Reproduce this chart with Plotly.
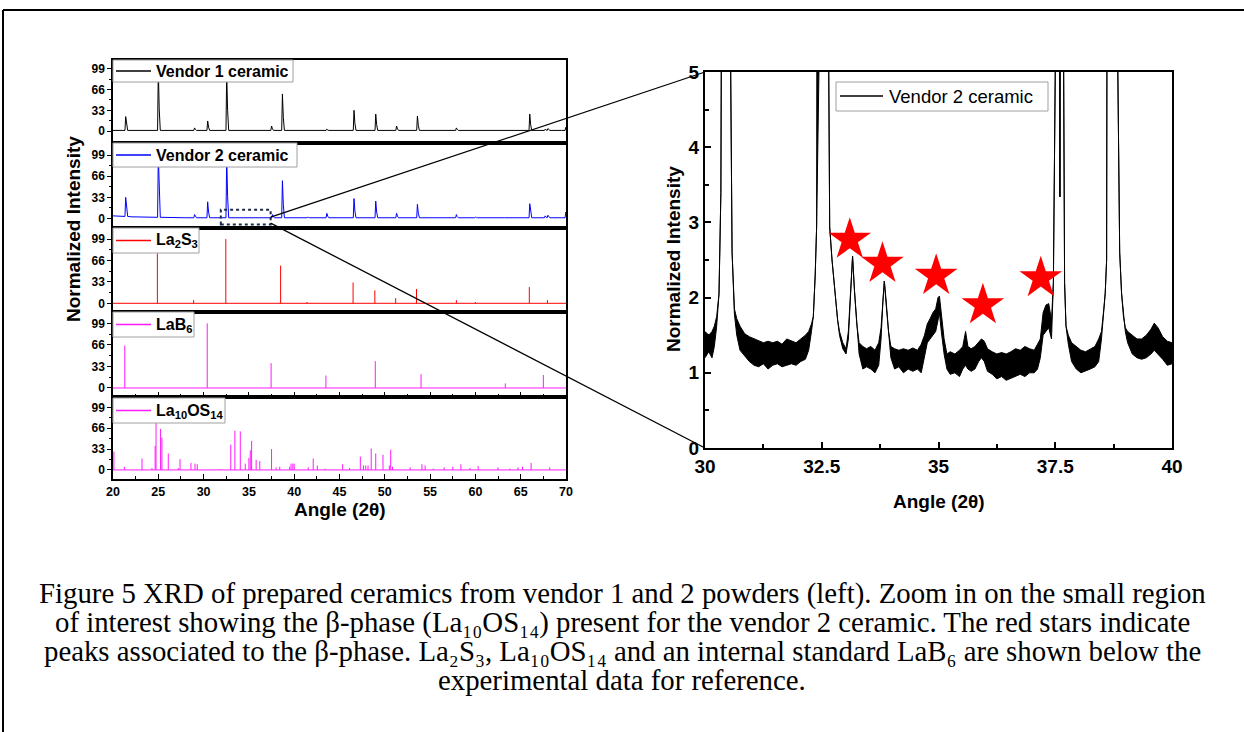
import numpy as np
import plotly.graph_objects as go

W, H = 1244, 732

# ---------------- data ----------------
angle_ticks = [20, 25, 30, 35, 40, 45, 50, 55, 60, 65, 70]
intensity_ticks = [0, 33, 66, 99]

# Vendor 1 ceramic (peak position 2θ, normalized height)
v1_pos = [21.4, 25.0, 29.0, 30.45, 32.55, 37.5, 38.7, 43.6, 46.6, 49.0, 51.3, 53.6, 57.9, 66.0, 67.7, 68.0, 69.98]
v1_int = [23, 99, 5, 16, 92, 8, 59, 3, 33, 27, 8, 24, 5, 27, 3, 4, 6]
v1_base_x = [20.0, 69.5]
v1_base_y = [1.0, 1.0]

# Vendor 2 ceramic
v2_pos = [21.4, 25.0, 29.0, 30.45, 32.55, 37.6, 38.7, 41.5, 43.6, 46.6, 49.0, 51.3, 53.6, 57.9, 60.0, 63.3, 66.0, 67.7, 68.0, 69.98]
v2_int = [33, 99, 6, 26, 95, 6, 59, 2, 8, 31, 27, 8, 22, 6, 2, 1, 23, 4, 5, 10]
v2_base_x = [20.0, 21.0, 22.0, 24.0, 28.0, 69.5]
v2_base_y = [4.0, 3.5, 2.5, 2.0, 1.0, 1.0]

# Reference stick patterns
la2s3_pos = [24.9, 28.9, 32.45, 38.5, 41.4, 46.5, 48.9, 51.2, 53.5, 57.9, 60.0, 65.95, 67.95]
la2s3_int = [77, 5, 99, 58, 2, 32, 20, 8, 22, 5, 2, 25, 5]

lab6_pos = [21.3, 30.4, 37.45, 43.5, 48.95, 54.0, 63.3, 67.5]
lab6_int = [65, 99, 38, 19, 41, 21, 7, 20]

la10_pos = [20.1, 21.25, 23.2, 24.3, 24.65, 24.75, 25.25, 25.4, 26.1, 27.2, 27.4, 28.6, 29.05, 29.3,
            31.8, 33.0, 33.45, 34.05, 34.6, 35.0, 35.15, 35.3, 35.8, 36.2, 37.5, 38.0, 38.4, 39.5,
            39.65, 39.85, 40.0, 41.55, 42.1, 42.55, 43.4, 45.35, 46.1, 47.3, 47.65, 47.9, 48.15, 48.5,
            49.0, 49.8, 50.5, 50.65, 50.85, 52.8, 54.1, 54.45, 55.35, 56.55, 57.5, 58.4, 59.4, 60.3,
            62.5, 63.8, 64.7, 65.2, 66.15, 68.2]
la10_int = [29, 5, 18, 3, 38, 99, 65, 51, 26, 3, 17, 11, 10, 9,
            1, 40, 62, 61, 10, 19, 31, 46, 16, 14, 33, 4, 5, 5,
            10, 10, 10, 4, 18, 7, 2, 9, 3, 21, 7, 7, 7, 34,
            26, 24, 7, 32, 5, 4, 9, 7, 2, 4, 5, 9, 3, 6,
            4, 2, 4, 5, 11, 4]

# Zoomed vendor 2 region: 2θ, lower and upper edge of the noisy trace
zoom_x = [30.00, 30.08, 30.15, 30.20, 30.25, 30.30, 30.34, 30.37, 30.46, 30.55, 30.58, 30.63, 30.68,
          30.75, 30.85, 30.95, 31.05, 31.15, 31.25, 31.35, 31.45, 31.55, 31.65, 31.75, 31.85, 31.95,
          32.05, 32.15, 32.22, 32.28, 32.32, 32.36, 32.39, 32.44, 32.55, 32.65, 32.67, 32.72, 32.78,
          32.84, 32.88, 32.95, 33.02, 33.07, 33.11, 33.16, 33.20, 33.25, 33.30, 33.38, 33.46, 33.55,
          33.64, 33.72, 33.77, 33.81, 33.84, 33.88, 33.93, 33.98, 34.06, 34.15, 34.25, 34.35, 34.45,
          34.55, 34.63, 34.70, 34.76, 34.82, 34.88, 34.94, 34.99, 35.02, 35.06, 35.12, 35.18, 35.25,
          35.35, 35.45, 35.52, 35.58, 35.63, 35.70, 35.78, 35.86, 35.92, 35.98, 36.05, 36.15, 36.25,
          36.35, 36.45, 36.55, 36.65, 36.75, 36.85, 36.95, 37.05, 37.12, 37.18, 37.24, 37.30, 37.36,
          37.42, 37.46, 37.50, 37.56, 37.60, 37.64, 37.68, 37.70, 37.73, 37.78, 37.85, 37.95, 38.05,
          38.15, 38.25, 38.35, 38.43, 38.49, 38.54, 38.57, 38.60, 38.64, 38.74, 38.84, 38.88, 38.92,
          38.96, 39.00, 39.05, 39.15, 39.25, 39.35, 39.45, 39.55, 39.62, 39.70, 39.80, 39.90, 40.00]
zoom_lo = [1.20, 1.28, 1.20, 1.35, 1.62, 2.05, 3.40, 5.0, 26.0, 5.0, 2.60, 1.78, 1.50,
           1.30, 1.22, 1.15, 1.10, 1.08, 1.12, 1.05, 1.10, 1.12, 1.08, 1.10, 1.12, 1.10,
           1.15, 1.18, 1.30, 1.55, 1.75, 2.30, 2.94, 5.0, 79.0, 5.0, 2.94, 2.50, 2.06,
           1.70, 1.50, 1.32, 1.25, 1.45, 1.95, 2.55, 2.10, 1.60, 1.25, 1.05, 1.08, 1.05,
           1.00, 1.10, 1.45, 1.95, 2.22, 1.90, 1.50, 1.20, 1.05, 1.08, 1.00, 1.05, 1.02,
           1.05, 1.00, 1.20, 1.40, 1.45, 1.50, 1.55, 1.70, 1.80, 1.55, 1.25, 1.05, 0.98,
           1.00, 0.95, 1.05, 1.10, 1.05, 1.02, 1.05, 1.15, 1.20, 1.15, 1.02, 0.98, 0.92,
           0.95, 0.90, 0.93, 0.95, 0.98, 0.95, 1.00, 1.00, 1.05, 1.20, 1.50, 1.55, 1.60,
           1.45, 2.20, 5.0, 20.0, 3.34, 20.0, 5.0, 2.20, 1.62, 1.38, 1.15, 1.05, 1.00,
           1.02, 1.05, 1.08, 1.15, 1.45, 1.80, 2.06, 2.50, 5.0, 59.0, 5.0, 2.60, 2.06,
           1.75, 1.55, 1.40, 1.25, 1.20, 1.18, 1.20, 1.25, 1.30, 1.25, 1.18, 1.10, 1.12]
zoom_hi = [1.55, 1.50, 1.55, 1.62, 1.75, 2.05, 3.40, 5.0, 26.0, 5.0, 2.60, 1.85, 1.72,
           1.62, 1.52, 1.48, 1.45, 1.43, 1.40, 1.42, 1.40, 1.42, 1.38, 1.45, 1.42, 1.40,
           1.45, 1.50, 1.55, 1.65, 1.75, 2.30, 2.94, 5.0, 79.0, 5.0, 2.94, 2.50, 2.06,
           1.70, 1.55, 1.40, 1.32, 1.55, 2.00, 2.55, 2.10, 1.65, 1.40, 1.35, 1.32, 1.35,
           1.30, 1.40, 1.60, 2.05, 2.22, 1.95, 1.55, 1.35, 1.32, 1.30, 1.32, 1.30, 1.33,
           1.30, 1.38, 1.50, 1.65, 1.72, 1.80, 1.85, 2.00, 2.02, 1.75, 1.45, 1.25, 1.28,
           1.25, 1.30, 1.35, 1.55, 1.35, 1.32, 1.35, 1.40, 1.45, 1.42, 1.32, 1.28, 1.25,
           1.27, 1.25, 1.28, 1.32, 1.30, 1.35, 1.32, 1.30, 1.38, 1.45, 1.80, 1.90, 1.92,
           1.70, 2.20, 5.0, 20.0, 3.34, 20.0, 5.0, 2.20, 1.62, 1.50, 1.40, 1.35, 1.30,
           1.28, 1.32, 1.35, 1.45, 1.55, 1.85, 2.06, 2.50, 5.0, 59.0, 5.0, 2.60, 2.06,
           1.75, 1.60, 1.55, 1.50, 1.45, 1.45, 1.50, 1.58, 1.66, 1.60, 1.48, 1.42, 1.40]

# beta-phase peaks marked with red stars
star_x = [33.10, 33.80, 34.95, 35.95, 37.19]
star_y = [2.77, 2.45, 2.29, 1.90, 2.26]

zoom_ticks = [30, 32.5, 35, 37.5, 40]

series_names = ["Vendor 1 ceramic", "Vendor 2 ceramic", "La<sub>2</sub>S<sub>3</sub>",
                "LaB<sub>6</sub>", "La<sub>10</sub>OS<sub>14</sub>"]
zoom_name = "Vendor 2 ceramic"

caption_lines = [
    "Figure 5 XRD of prepared ceramics from vendor 1 and 2 powders (left). Zoom in on the small region",
    "of interest showing the β-phase (La₁₀OS₁₄) present for the vendor 2 ceramic. The red stars indicate",
    "peaks associated to the β-phase. La₂S₃, La₁₀OS₁₄ and an internal standard LaB₆ are shown below the",
    "experimental data for reference.",
]

# ---------------- helpers ----------------
def profile(pos, ints, bx, by):
    pts = list(zip(bx, by))
    for p, h in zip(pos, ints):
        b = float(np.interp(p, bx, by))
        pts += [(p - 0.08, b), (p, h), (p + 0.1, b + 0.35 * (h - b)), (p + 0.22, b)]
    pts.sort(key=lambda t: t[0])
    return [t[0] for t in pts], [t[1] for t in pts]


def sticks(pos, ints):
    xs, ys = [20, 70, None], [0, 0, None]
    for p, h in zip(pos, ints):
        xs += [p, p, None]
        ys += [0, h, None]
    return xs, ys


def ydom(top, bottom):
    return [1 - bottom / H, 1 - top / H]


FONT = "Liberation Sans, Arial, sans-serif"
SERIF = "Liberation Serif, Times New Roman, DejaVu Serif, serif"
LEFT_X = [113 / W, 566 / W]
RIGHT_X = [705 / W, 1172 / W]
panels = [  # (top px, bottom px, y-range)
    (60, 143, [-19, 113]),
    (143, 228, [-15, 118]),
    (228, 312, [-13.4, 116]),
    (312, 397, [-13.8, 116.3]),
    (397, 479, [-14.4, 115.5]),
]
RIGHT_Y = ydom(72, 448)
colors = ["#000000", "#0000ff", "#ff0000", "#ff1aff", "#ff1aff"]

fig = go.Figure()

series = [
    profile(v1_pos, v1_int, v1_base_x, v1_base_y),
    profile(v2_pos, v2_int, v2_base_x, v2_base_y),
    sticks(la2s3_pos, la2s3_int),
    sticks(lab6_pos, lab6_int),
    sticks(la10_pos, la10_int),
]
for i, (xs, ys) in enumerate(series):
    k = "" if i == 0 else str(i + 1)
    fig.add_trace(go.Scatter(x=xs, y=ys, mode="lines", name=series_names[i],
                             line=dict(color=colors[i], width=1),
                             xaxis="x" + k, yaxis="y" + k, showlegend=False))

# zoomed panel
fig.add_trace(go.Scatter(x=zoom_x, y=zoom_lo, mode="lines", name=zoom_name,
                         line=dict(color="black", width=1), xaxis="x6", yaxis="y6",
                         showlegend=False))
fig.add_trace(go.Scatter(x=zoom_x, y=zoom_hi, mode="lines", fill="tonexty", fillcolor="black",
                         line=dict(color="black", width=1), xaxis="x6", yaxis="y6",
                         showlegend=False, hoverinfo="skip"))
fig.add_trace(go.Scatter(x=star_x, y=star_y, mode="markers", xaxis="x6", yaxis="y6",
                         marker=dict(symbol="star", size=32, color="#ff0000", line=dict(width=0)),
                         showlegend=False))

layout = dict(
    width=W, height=H, margin=dict(l=0, r=0, t=0, b=0, pad=0, autoexpand=False),
    paper_bgcolor="white", plot_bgcolor="white",
    font=dict(family=FONT, color="black"), showlegend=False,
)

for i, (top, bot, yr) in enumerate(panels):
    k = "" if i == 0 else str(i + 1)
    last = i == 4
    xa = dict(domain=LEFT_X, range=[20, 70], anchor="y" + k, showline=True, linewidth=1.5,
              linecolor="black", mirror=True, showgrid=False, zeroline=False,
              tickvals=angle_ticks, showticklabels=last,
              tickfont=dict(family=FONT, size=12.5, weight="bold"))
    if i >= 3:
        xa.update(ticks="inside", ticklen=5, tickwidth=1.3, tickcolor="black",
                  minor=dict(dtick=2.5, tick0=20, ticks="inside", ticklen=3, tickwidth=1.3, tickcolor="black"))
    else:
        xa.update(ticks="")
    ya = dict(domain=ydom(top, bot), range=yr, anchor="x" + k, showline=True, linewidth=1.5,
              linecolor="black", mirror=True, showgrid=False, zeroline=False,
              tickvals=intensity_ticks, ticks="outside", ticklen=4, tickwidth=1.3, tickcolor="black",
              minor=dict(tickmode="array", tickvals=[16.5, 49.5, 82.5], ticks="outside", ticklen=2,
                         tickwidth=1.3, tickcolor="black"),
              tickfont=dict(family=FONT, size=12, weight="bold"))
    layout["xaxis" + k] = xa
    layout["yaxis" + k] = ya

layout["xaxis6"] = dict(domain=RIGHT_X, range=[30, 40], anchor="y6", showline=True, linewidth=2,
                        linecolor="black", mirror=True, showgrid=False, zeroline=False,
                        tickvals=zoom_ticks, ticktext=[str(t) for t in zoom_ticks],
                        ticks="inside", ticklen=6, tickwidth=1.5, tickcolor="black",
                        minor=dict(dtick=1.25, tick0=30, ticks="inside", ticklen=4, tickwidth=1.5,
                                   tickcolor="black"),
                        tickfont=dict(family=FONT, size=19, weight="bold"))
layout["yaxis6"] = dict(domain=RIGHT_Y, range=[0, 5], anchor="x6", showline=True, linewidth=2,
                        linecolor="black", mirror=True, showgrid=False, zeroline=False,
                        dtick=1, tick0=0, ticks="inside", ticklen=6, tickwidth=1.5, tickcolor="black",
                        minor=dict(dtick=0.5, ticks="inside", ticklen=4, tickwidth=1.5, tickcolor="black"),
                        tickfont=dict(family=FONT, size=19, weight="bold"))
fig.update_layout(**layout)


# data -> paper mapping for the zoom connector
def to_paper(v, rng, dom):
    return dom[0] + (v - rng[0]) / (rng[1] - rng[0]) * (dom[1] - dom[0])

shapes, annotations = [], []

# legend boxes (drawn above the traces, like the original's boxed legends)
legend_boxes = [  # x0, x1, y0, y1 (px)
    (113, 293, 60, 82), (113, 297, 143, 167), (113, 199, 228, 253),
    (113, 194, 312, 337), (113, 225, 398, 423),
]
for i, (x0, x1, y0, y1) in enumerate(legend_boxes):
    ym = (y0 + y1) / 2
    shapes.append(dict(type="rect", xref="paper", yref="paper", x0=x0 / W, x1=x1 / W,
                       y0=1 - y1 / H, y1=1 - y0 / H, fillcolor="white",
                       line=dict(color="#a0a0a0", width=1), layer="above"))
    shapes.append(dict(type="line", xref="paper", yref="paper", x0=116 / W, x1=151 / W,
                       y0=1 - ym / H, y1=1 - ym / H, line=dict(color=colors[i], width=1.3), layer="above"))
    annotations.append(dict(text=series_names[i], x=155 / W, y=1 - (ym + 0.5) / H, xref="paper", yref="paper",
                            showarrow=False, xanchor="left", yanchor="middle", borderpad=0,
                            font=dict(family=FONT, size=16, weight="bold", color="black")))
# zoom panel legend
shapes.append(dict(type="rect", xref="paper", yref="paper", x0=836 / W, x1=1048 / W,
                   y0=1 - 111 / H, y1=1 - 82 / H, fillcolor="white",
                   line=dict(color="#a0a0a0", width=1), layer="above"))
shapes.append(dict(type="line", xref="paper", yref="paper", x0=840 / W, x1=883 / W,
                   y0=1 - 96 / H, y1=1 - 96 / H, line=dict(color="black", width=1.5), layer="above"))
annotations.append(dict(text=zoom_name, x=888 / W, y=1 - 96.5 / H, xref="paper", yref="paper",
                        showarrow=False, xanchor="left", yanchor="middle", borderpad=0,
                        font=dict(family=FONT, size=18.5, color="black")))

p2_y = ydom(panels[1][0], panels[1][1]); p2_r = panels[1][2]
box_x0, box_x1, box_y0, box_y1 = 31.9, 37.4, -9.4, 13.5
shapes += [
    dict(type="rect", xref="x2", yref="y2", x0=box_x0, x1=box_x1, y0=box_y0, y1=box_y1,
         line=dict(color="#1c2b4a", width=2, dash="dot"), layer="above"),
    dict(type="line", xref="paper", yref="paper",
         x0=to_paper(box_x1, [20, 70], LEFT_X), y0=to_paper(2, p2_r, p2_y),
         x1=RIGHT_X[0], y1=RIGHT_Y[1], line=dict(color="black", width=1.3), layer="above"),
    dict(type="line", xref="paper", yref="paper",
         x0=to_paper(box_x1, [20, 70], LEFT_X), y0=to_paper(-7.4, p2_r, p2_y),
         x1=RIGHT_X[0], y1=RIGHT_Y[0], line=dict(color="black", width=1.3), layer="above"),
    # page frame
    dict(type="line", xref="paper", yref="paper", x0=3 / W, x1=1.0, y0=1 - 10 / H, y1=1 - 10 / H,
         line=dict(color="black", width=2)),
    dict(type="line", xref="paper", yref="paper", x0=3 / W, x1=3 / W, y0=0, y1=1 - 10 / H,
         line=dict(color="black", width=2)),
]

ann = [
    dict(text="Normalized Intensity", x=74 / W, y=1 - 229 / H, textangle=-90),
    dict(text="Angle (2θ)", x=340 / W, y=1 - 509 / H),
    dict(text="Normalized Intensity", x=673 / W, y=1 - 259 / H, textangle=-90),
    dict(text="Angle (2θ)", x=939 / W, y=1 - 501 / H),
]
for a in ann:
    a.update(xref="paper", yref="paper", showarrow=False, xanchor="center", yanchor="middle",
             font=dict(family=FONT, size=19, weight="bold", color="black"))
    annotations.append(a)

# caption: centred lines
CAP_SIZE = 28.8
cap_y = [593, 622, 651, 680]
for j, line in enumerate(caption_lines):
    annotations.append(dict(text=line, x=622 / W, y=1 - cap_y[j] / H, xref="paper", yref="paper",
                            showarrow=False, xanchor="center", yanchor="middle", borderpad=0,
                            font=dict(family=SERIF, size=CAP_SIZE, color="black")))

fig.update_layout(shapes=shapes, annotations=annotations)

fig.write_html("out.html", config={"displayModeBar": False},
               post_script="document.body.style.margin='0px';")
